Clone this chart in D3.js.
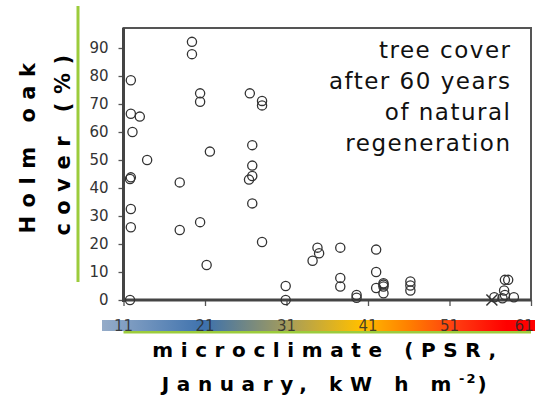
<!DOCTYPE html>
<html><head><meta charset="utf-8">
<script src="https://cdn.jsdelivr.net/npm/d3@7"></script>
<style>html,body{margin:0;padding:0;background:#fff;overflow:hidden}</style>
</head><body>
<svg id="c" width="535" height="399"></svg>
<script>
// ---- data ----
const psr = [11.9,11.9,13.0,12.1,13.9,11.9,11.8,11.9,11.9,11.8,
  17.9,17.9,19.4,19.4,20.4,20.4,21.6,20.4,21.2,
  26.5,28.0,28.0,26.8,26.8,26.8,26.4,26.8,28.0,
  30.9,30.9,34.8,35.0,34.2,37.6,37.6,37.6,39.6,39.6,
  42.0,42.0,42.0,42.9,42.9,42.9,42.9,46.2,46.2,46.2,
  56.5,57.8,58.2,57.7,57.8,58.9,57.5];
const cover = [78.5,66.5,65.5,60,50,43.8,43.2,32.5,26,0,
  42,25,92.2,87.8,73.8,70.8,53,27.8,12.5,
  73.8,71.1,69.5,55.3,48,44.3,43,34.5,20.7,
  5,0,18.7,16.7,14,18.7,7.9,4.8,1.8,0.8,
  18,10,4.3,6,4.8,2.4,5.5,6.6,5.2,3.4,
  1.0,7.2,7.2,3.4,1.8,1.0,0.6];
const crossPsr = [56.2];
const crossCover = [0];
const yTicks = [0,10,20,30,40,50,60,70,80,90];
const xTicks = [11,21,31,41,51,61];
const noteLines = ["tree cover","after 60 years","of natural","regeneration"];
const yTitle = ["Holm oak","cover (%)"];
const gradStops = [
  {v:8.5,c:"#94abc8"},{v:21,c:"#3d71ad"},{v:31,c:"#a49c5c"},
  {v:40,c:"#ffbf00"},{v:46,c:"#ff7f00"},{v:52,c:"#ff3a10"},{v:58,c:"#ff0000"},{v:64,c:"#ff0000"}];

// ---- chart ----
const svg = d3.select("#c");
const x = d3.scaleLinear().domain([11,61]).range([123.5,531]);
const y = d3.scaleLinear().domain([0,90]).range([300,48]);
const yTop = 28;

// left green rule
svg.append("rect").attr("x",76.5).attr("y",6).attr("width",3).attr("height",276).attr("fill","#9ccc3c");

// frame
svg.append("rect").attr("x",x(11)).attr("y",yTop).attr("width",x(61)-x(11)).attr("height",y(0)-yTop)
  .attr("fill","none").attr("stroke","#555").attr("stroke-width",2);

// y axis
const ya = svg.append("g").attr("transform",`translate(${x(11)},0)`)
  .call(d3.axisLeft(y).tickValues(yTicks).tickSize(5).tickPadding(10).tickFormat(d3.format("d")));
ya.select(".domain").remove();
ya.selectAll("line").attr("stroke","#555").attr("stroke-width",1.3);
ya.selectAll("text").attr("font-family","DejaVu Sans").attr("font-size",15).attr("fill","#333");

// x axis ticks
const xa = svg.append("g").attr("transform",`translate(0,${y(0)})`)
  .call(d3.axisBottom(x).tickValues(xTicks).tickSize(6).tickFormat(""));
xa.select(".domain").remove();
xa.selectAll("line").attr("stroke","#555").attr("stroke-width",1.3);

// axis lines (thicker)
svg.append("line").attr("x1",x(11)).attr("x2",x(11)).attr("y1",yTop).attr("y2",y(0)+2).attr("stroke","#444").attr("stroke-width",3);
svg.append("line").attr("x1",x(11)-1).attr("x2",x(61)).attr("y1",y(0)).attr("y2",y(0)).attr("stroke","#444").attr("stroke-width",3);

// points
svg.append("g").selectAll("circle").data(psr.map((p,i)=>[p,cover[i]])).join("circle")
  .attr("cx",d=>x(d[0])).attr("cy",d=>y(d[1])).attr("r",4.6)
  .attr("fill","none").attr("stroke","#333").attr("stroke-width",1.3);
svg.append("g").selectAll("path").data(crossPsr.map((p,i)=>[p,crossCover[i]])).join("path")
  .attr("d",d3.symbol(d3.symbolX,80)).attr("transform",d=>`translate(${x(d[0])},${y(d[1])})`)
  .attr("stroke","#333").attr("stroke-width",1.5).attr("fill","none");

// annotation
const nt = svg.append("text").attr("text-anchor","end").attr("font-family","DejaVu Sans").attr("font-size",23)
  .attr("letter-spacing",1.5).attr("fill","#111");
noteLines.forEach((t,i)=>nt.append("tspan").attr("x",511.5).attr("y",58+i*31).text(t));

// colour bar
const defs = svg.append("defs");
const lg = defs.append("linearGradient").attr("id","cb").attr("gradientUnits","userSpaceOnUse")
  .attr("x1",x(8.5)).attr("x2",x(64)).attr("y1",0).attr("y2",0);
gradStops.forEach(s=>lg.append("stop").attr("offset",(x(s.v)-x(8.5))/(x(64)-x(8.5))).attr("stop-color",s.c));
svg.append("rect").attr("x",102).attr("y",320).attr("width",440).attr("height",11).attr("fill","url(#cb)");
svg.append("rect").attr("x",x(11)).attr("y",331).attr("width",x(61)-x(11)).attr("height",2.5).attr("fill","#9ccc3c");
svg.append("g").selectAll("text").data(xTicks).join("text")
  .attr("x",d=>Math.min(x(d),534-10)).attr("y",331).attr("text-anchor","middle")
  .attr("font-family","DejaVu Sans").attr("font-size",15).attr("fill","#2a2a2a").attr("fill-opacity",0.85).text(d=>d);

// x title
const xt = svg.append("text").attr("text-anchor","middle").attr("font-family","DejaVu Sans").attr("font-weight","bold")
  .attr("font-size",20).attr("letter-spacing",7.6).attr("fill","#000");
xt.append("tspan").attr("x",328).attr("y",357).text("microclimate (PSR,");
xt.append("tspan").attr("x",328).attr("y",391).text("January, kW h m");
xt.append("tspan").attr("font-size",13).attr("dy",-8).attr("letter-spacing",2).text("-2");
xt.append("tspan").attr("dy",8).text(")");

// y title
const yt = svg.append("text").attr("transform","rotate(-90)").attr("text-anchor","middle")
  .attr("font-family","DejaVu Sans").attr("font-weight","bold").attr("font-size",21).attr("letter-spacing",8.5).attr("fill","#000");
yt.append("tspan").attr("x",-144).attr("y",35).text(yTitle[0]);
yt.append("tspan").attr("x",-141).attr("y",70).text(yTitle[1]);
</script>
</body></html>
